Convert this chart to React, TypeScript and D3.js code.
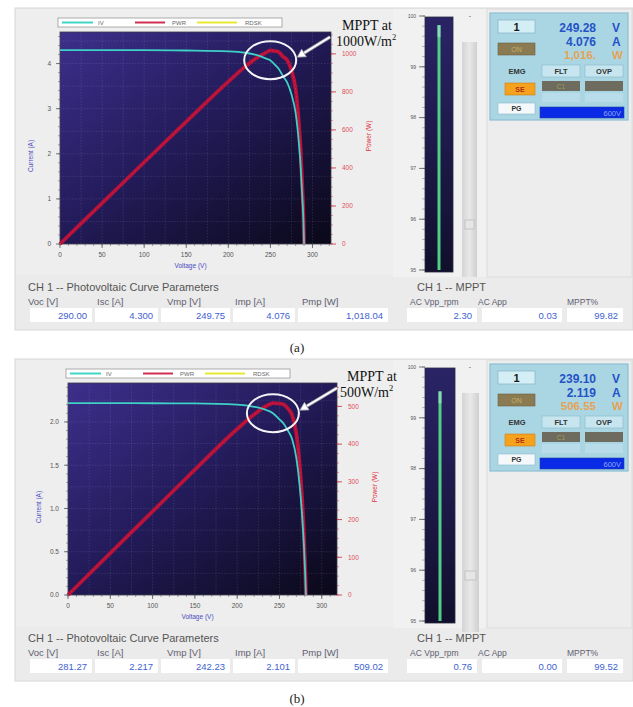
import React from "react";
import * as d3 from "d3";

// ---------- data ----------
const voltageA = [0, 50, 100, 150, 200, 220, 235, 245, 249.75, 255, 260, 265, 270, 275, 280, 284, 286, 288, 289.3, 290];
const currentA = [4.3, 4.3, 4.3, 4.29, 4.27, 4.24, 4.18, 4.11, 4.076, 3.98, 3.88, 3.72, 3.58, 3.32, 2.9, 2.2, 1.7, 1.0, 0.5, 0];
const powerA = [0, 215, 430, 643.5, 854, 932.8, 982.3, 1007, 1018, 1014.9, 1008.8, 985.8, 966.6, 913, 812, 624.8, 486.2, 288, 144.7, 0];

const voltageB = [0, 50, 100, 150, 200, 220, 235, 242.23, 250, 255, 260, 265, 270, 274, 277, 279, 280.5, 281.27];
const currentB = [2.217, 2.217, 2.216, 2.214, 2.2, 2.175, 2.135, 2.101, 2.03, 1.98, 1.9, 1.8, 1.58, 1.25, 0.88, 0.55, 0.22, 0];
const powerB = [0, 110.85, 221.6, 332.1, 440, 478.5, 501.7, 508.9, 507.5, 504.9, 494, 477, 426.6, 342.5, 243.8, 153.5, 61.7, 0];

const voltageTicks = [0, 50, 100, 150, 200, 250, 300];
const currentTicksA = [0, 1, 2, 3, 4];
const currentTicksB = [0, 0.5, 1, 1.5, 2];
const powerTicksA = [0, 200, 400, 600, 800, 1000];
const powerTicksB = [0, 100, 200, 300, 400, 500];
const gaugeTicks = [95, 96, 97, 98, 99, 100];
const legendLabels = ["IV", "PWR", "RDSK"];

const paramHeaders = ["Voc [V]", "Isc [A]", "Vmp [V]", "Imp [A]", "Pmp [W]"];
const paramValuesA = ["290.00", "4.300", "249.75", "4.076", "1,018.04"];
const paramValuesB = ["281.27", "2.217", "242.23", "2.101", "509.02"];
const mpptHeaders = ["AC Vpp_rpm", "AC App", "MPPT%"];
const mpptValuesA = ["2.30", "0.03", "99.82"];
const mpptValuesB = ["0.76", "0.00", "99.52"];
const mpptPctA = 99.82;
const mpptPctB = 99.52;
const readoutA = ["249.28", "4.076", "1,016."];
const readoutB = ["239.10", "2.119", "506.55"];
const irradianceA = "1000W/m";
const irradianceB = "500W/m";
const captions = ["(a)", "(b)"];

const SANS = "'Liberation Sans', Arial, sans-serif";
const SERIF = "'Liberation Serif', 'Times New Roman', serif";

type Cfg = {
  id: string;
  top: number;
  plot: { x0: number; x1: number; y0: number; y1: number };
  xMax: number;
  iMax: number;
  pMax: number;
  V: number[];
  I: number[];
  P: number[];
  iTicks: number[];
  iMinor: number;
  iGrid: number;
  iFmt: (v: number) => string;
  pTicks: number[];
  pMinor: number;
  vmp: number;
  imp: number;
  irr: string;
  txt: { mx: number; my: number; ix: number; iy: number };
  arrowTail: [number, number];
  params: string[];
  mppt: string[];
  pct: number;
  readout: string[];
  gauge: { x0: number; x1: number; y0: number; y1: number };
  slider: { x0: number; x1: number; y0: number; y1: number };
  caption: string;
};

function Panel({ c }: { c: Cfg }) {
  const { plot } = c;
  const x = d3.scaleLinear().domain([0, c.xMax]).range([plot.x0, plot.x1]);
  const yI = d3.scaleLinear().domain([0, c.iMax]).range([plot.y1, plot.y0]);
  const yP = d3.scaleLinear().domain([0, c.pMax]).range([plot.y1, plot.y0]);
  const ivPts: [number, number][] = c.V.map((v, i) => [v, c.I[i]]);
  const pPts: [number, number][] = c.V.map((v, i) => [v, c.P[i]]);
  const ivLine = d3.line<[number, number]>().x((d) => x(d[0])).y((d) => yI(d[1])).curve(d3.curveMonotoneX);
  const pLine = d3.line<[number, number]>().x((d) => x(d[0])).y((d) => yP(d[1])).curve(d3.curveMonotoneX);

  const vGrid = d3.range(0, c.xMax + 0.01, 25);
  const vMinor = d3.range(0, c.xMax + 0.01, 10);
  const iGrid = d3.range(0, c.iMax + 0.0001, c.iGrid);
  const iMinor = d3.range(0, c.iMax + 0.0001, c.iMinor);
  const pMinor = d3.range(0, c.pMax + 0.01, c.pMinor);

  const gy = d3.scaleLinear().domain([95, 100]).range([c.gauge.y1 - 2, c.gauge.y0 - 1]);
  const gMinor = d3.range(95, 100.001, 0.2);

  const cx = x(c.vmp);
  const cy = yI(c.imp);
  const rx = 26;
  const ry = 19;
  const head: [number, number] = [cx + rx + 1, cy - 3];
  const ang = Math.atan2(head[1] - c.arrowTail[1], head[0] - c.arrowTail[0]);
  const ah = 8;
  const aw = 4.5;
  const bx = head[0] - ah * Math.cos(ang);
  const by = head[1] - ah * Math.sin(ang);
  const arrowPoly = [
    [head[0], head[1]],
    [bx + aw * Math.sin(ang), by - aw * Math.cos(ang)],
    [bx - aw * Math.sin(ang), by + aw * Math.cos(ang)],
  ]
    .map((p) => p.join(","))
    .join(" ");

  const T = c.top;
  const pBoxes = [
    [30, 92],
    [95, 158],
    [161, 230],
    [233, 295],
    [298, 388],
  ];
  const pHeadX = [28, 97, 167, 235, 302];
  const mBoxes = [
    [407, 477],
    [482, 562],
    [567, 623],
  ];
  const mHeadX = [410, 478, 567];

  const rp = { x0: 490, y0: T + 5 };

  return (
    <g>
      {/* panel backgrounds */}
      <rect x={15} y={T} width={618} height={322} fill="#ebebeb" stroke="#d8d8d8" />
      <rect x={16} y={T + 1} width={377} height={266} fill="#eeeeee" />
      <rect x={393} y={T + 1} width={94} height={268} fill="#f1f1f1" />
      <rect x={487} y={T + 1} width={145} height={268} fill="#ededed" stroke="#dcdcdc" />

      {/* plot background */}
      <rect x={plot.x0} y={plot.y0} width={plot.x1 - plot.x0} height={plot.y1 - plot.y0} fill={`url(#bg-${c.id})`} />
      {vGrid.map((v) => (
        <line key={"vg" + v} x1={x(v)} x2={x(v)} y1={plot.y0} y2={plot.y1} stroke="rgba(200,200,230,0.2)" strokeWidth={0.7} strokeDasharray="1.5,1.5" />
      ))}
      {iGrid.map((v) => (
        <line key={"ig" + v} x1={plot.x0} x2={plot.x1} y1={yI(v)} y2={yI(v)} stroke="rgba(200,200,230,0.2)" strokeWidth={0.7} strokeDasharray="1.5,1.5" />
      ))}
      <rect x={plot.x0} y={plot.y0} width={plot.x1 - plot.x0} height={plot.y1 - plot.y0} fill="none" stroke="#3a3a4a" strokeWidth={0.8} />

      {/* legend */}
      <rect x={plot.x0 - 2} y={plot.y0 - 14} width={224} height={9} fill="#ffffff" stroke="#9a9a9a" strokeWidth={0.8} />
      <line x1={plot.x0 + 2} x2={plot.x0 + 33} y1={plot.y0 - 9.5} y2={plot.y0 - 9.5} stroke="#3fd6c6" strokeWidth={2} />
      <text x={plot.x0 + 38} y={plot.y0 - 7.3} fontSize={6} fill="#666" fontFamily={SANS}>{legendLabels[0]}</text>
      <line x1={plot.x0 + 75} x2={plot.x0 + 105} y1={plot.y0 - 9.5} y2={plot.y0 - 9.5} stroke="#d03050" strokeWidth={2} />
      <text x={plot.x0 + 112} y={plot.y0 - 7.3} fontSize={6} fill="#666" fontFamily={SANS}>{legendLabels[1]}</text>
      <line x1={plot.x0 + 137} x2={plot.x0 + 177} y1={plot.y0 - 9.5} y2={plot.y0 - 9.5} stroke="#e8e830" strokeWidth={2} />
      <text x={plot.x0 + 185} y={plot.y0 - 7.3} fontSize={6} fill="#666" fontFamily={SANS}>{legendLabels[2]}</text>

      {/* curves */}
      <path d={pLine(pPts) || ""} fill="none" stroke="#b5123a" strokeWidth={3.8} strokeLinejoin="round" />
      <path d={pLine(pPts) || ""} fill="none" stroke="#e0204a" strokeWidth={1} strokeDasharray="2,2" opacity={0.7} />
      <path d={ivLine(ivPts) || ""} fill="none" stroke="#3fd0c6" strokeWidth={1.8} />

      {/* left axis */}
      {iMinor.map((v) => (
        <line key={"im" + v} x1={plot.x0 - 2} x2={plot.x0} y1={yI(v)} y2={yI(v)} stroke="#666" strokeWidth={0.6} />
      ))}
      {c.iTicks.map((v) => (
        <g key={"it" + v}>
          <line x1={plot.x0 - 4} x2={plot.x0} y1={yI(v)} y2={yI(v)} stroke="#555" strokeWidth={0.8} />
          <text x={plot.x0 - 9} y={yI(v) + 2.3} fontSize={6.5} fill="#555" textAnchor="end" fontFamily={SANS}>{c.iFmt(v)}</text>
        </g>
      ))}
      <text transform={`translate(${plot.x0 - 27},${(plot.y0 + plot.y1) / 2 + 18}) rotate(-90)`} fontSize={6.5} fill="#4b4bc0" textAnchor="middle" fontFamily={SANS}>Current (A)</text>

      {/* bottom axis */}
      {vMinor.map((v) => (
        <line key={"vm" + v} x1={x(v)} x2={x(v)} y1={plot.y1} y2={plot.y1 + 2} stroke="#666" strokeWidth={0.6} />
      ))}
      {voltageTicks.map((v) => (
        <g key={"vt" + v}>
          <line x1={x(v)} x2={x(v)} y1={plot.y1} y2={plot.y1 + 4} stroke="#555" strokeWidth={0.8} />
          <text x={x(v)} y={plot.y1 + 13} fontSize={6.5} fill="#555" textAnchor="middle" fontFamily={SANS}>{v}</text>
        </g>
      ))}
      <text x={(plot.x0 + plot.x1) / 2 - 5} y={plot.y1 + 24} fontSize={6.5} fill="#4b4bc0" textAnchor="middle" fontFamily={SANS}>Voltage (V)</text>

      {/* right axis */}
      {pMinor.map((v) => (
        <line key={"pm" + v} x1={plot.x1} x2={plot.x1 + 2} y1={yP(v)} y2={yP(v)} stroke="#d05060" strokeWidth={0.6} />
      ))}
      {c.pTicks.map((v) => (
        <g key={"pt" + v}>
          <line x1={plot.x1} x2={plot.x1 + 5} y1={yP(v)} y2={yP(v)} stroke="#d04050" strokeWidth={0.9} />
          <text x={plot.x1 + 11} y={yP(v) + 2.3} fontSize={6.5} fill="#e05060" fontFamily={SANS}>{v}</text>
        </g>
      ))}
      <text transform={`translate(${plot.x1 + 40},${(plot.y0 + plot.y1) / 2 - 2}) rotate(-90)`} fontSize={6.5} fill="#e03040" textAnchor="middle" fontFamily={SANS}>Power (W)</text>

      {/* MPPT annotation */}
      <ellipse cx={cx} cy={cy} rx={rx} ry={ry} fill="none" stroke="#f4f4f8" strokeWidth={2} />
      <line x1={c.arrowTail[0]} y1={c.arrowTail[1]} x2={bx} y2={by} stroke="#9a9aa8" strokeWidth={3.4} />
      <line x1={c.arrowTail[0]} y1={c.arrowTail[1]} x2={bx} y2={by} stroke="#ffffff" strokeWidth={1.8} />
      <polygon points={arrowPoly} fill="#ffffff" stroke="#9a9aa8" strokeWidth={0.8} />
      <text x={c.txt.mx} y={c.txt.my} fontSize={14} fill="#111" fontFamily={SERIF}>MPPT at</text>
      <text x={c.txt.ix} y={c.txt.iy} fontSize={14} fill="#111" fontFamily={SERIF}>
        {c.irr}
        <tspan fontSize={8.5} dy={-6}>2</tspan>
      </text>

      {/* gauge */}
      {gMinor.map((v) => (
        <line key={"gm" + v.toFixed(1)} x1={c.gauge.x0 - 3} x2={c.gauge.x0} y1={gy(v)} y2={gy(v)} stroke="#777" strokeWidth={0.5} />
      ))}
      {gaugeTicks.map((v) => (
        <g key={"gt" + v}>
          <line x1={c.gauge.x0 - 6} x2={c.gauge.x0} y1={gy(v)} y2={gy(v)} stroke="#555" strokeWidth={0.8} />
          <text x={c.gauge.x0 - 9} y={gy(v) + 1.8} fontSize={5} fill="#555" textAnchor="end" fontFamily={SANS}>{v}</text>
        </g>
      ))}
      <rect x={c.gauge.x0} y={c.gauge.y0} width={c.gauge.x1 - c.gauge.x0} height={c.gauge.y1 - c.gauge.y0} fill={`url(#gg-${c.id})`} stroke="#2a2a40" strokeWidth={0.8} />
      <rect x={(c.gauge.x0 + c.gauge.x1) / 2 - 1.5} y={gy(c.pct)} width={3} height={c.gauge.y1 - 2 - gy(c.pct)} fill="#4fcf86" />
      <rect x={(c.gauge.x0 + c.gauge.x1) / 2 - 1.5} y={gy(c.pct)} width={3} height={12} fill="#9fe0c8" opacity={0.7} />
      {/* slider */}
      <text x={c.slider.x0 + 8} y={c.slider.y0 - 24} fontSize={7} fill="#555" textAnchor="middle" fontFamily={SANS}>-</text>
      <rect x={c.slider.x0} y={c.slider.y0} width={c.slider.x1 - c.slider.x0} height={c.slider.y1 - c.slider.y0} fill={`url(#sl-${c.id})`} />
      <rect x={c.slider.x0 + 3} y={c.slider.y0 + 178} width={c.slider.x1 - c.slider.x0 - 6} height={9} fill="#e6e6e6" stroke="#b0b0b0" strokeWidth={0.6} />

      {/* right status panel */}
      <rect x={rp.x0} y={rp.y0} width={138} height={107} fill="#aad6e4" stroke="#8cbfd2" strokeWidth={1.2} />
      <rect x={498} y={T + 12} width={37} height={13} fill="#d4eef5" stroke="#8ab8c8" strokeWidth={0.8} />
      <text x={516.5} y={T + 22.5} fontSize={11} fontWeight="bold" fill="#1a1a1a" textAnchor="middle" fontFamily={SANS}>1</text>
      <text x={596} y={T + 24} fontSize={12} fontWeight="bold" fill="#2553c6" textAnchor="end" fontFamily={SANS}>{c.readout[0]}</text>
      <text x={612} y={T + 24} fontSize={12} fontWeight="bold" fill="#2553c6" fontFamily={SANS}>V</text>
      <text x={596} y={T + 37.5} fontSize={12} fontWeight="bold" fill="#2553c6" textAnchor="end" fontFamily={SANS}>{c.readout[1]}</text>
      <text x={612} y={T + 37.5} fontSize={12} fontWeight="bold" fill="#2553c6" fontFamily={SANS}>A</text>
      <text x={596} y={T + 51} fontSize={11.5} fontWeight="bold" fill="#f09a3a" textAnchor="end" fontFamily={SANS} opacity={0.85}>{c.readout[2]}</text>
      <text x={612} y={T + 51} fontSize={11.5} fontWeight="bold" fill="#f09a3a" fontFamily={SANS} opacity={0.85}>W</text>
      <rect x={498} y={T + 35} width={37} height={12} fill="#8a7b52" stroke="#6e6040" strokeWidth={0.6} />
      <text x={516.5} y={T + 43.5} fontSize={7} fill="#c8ae6a" textAnchor="middle" fontFamily={SANS}>ON</text>

      <text x={517} y={T + 66} fontSize={7.5} fontWeight="bold" fill="#333" textAnchor="middle" fontFamily={SANS}>EMG</text>
      <rect x={542} y={T + 57} width={38} height={12} fill="#c6e5ee" stroke="#8ab8c8" strokeWidth={0.6} />
      <text x={561} y={T + 66} fontSize={7.5} fontWeight="bold" fill="#333" textAnchor="middle" fontFamily={SANS}>FLT</text>
      <rect x={585} y={T + 57} width={38} height={12} fill="#c6e5ee" stroke="#8ab8c8" strokeWidth={0.6} />
      <text x={604} y={T + 66} fontSize={7.5} fontWeight="bold" fill="#333" textAnchor="middle" fontFamily={SANS}>OVP</text>

      <rect x={505} y={T + 75} width={30} height={12} fill="#f5a21e" stroke="#d08010" strokeWidth={0.6} />
      <text x={520} y={T + 84} fontSize={7} fontWeight="bold" fill="#b03010" textAnchor="middle" fontFamily={SANS}>SE</text>
      <rect x={542} y={T + 73} width={38} height={10} fill="#6d6c5e" />
      <text x={561} y={T + 80.5} fontSize={6.5} fill="#a89a5a" textAnchor="middle" fontFamily={SANS}>C1</text>
      <rect x={585} y={T + 73} width={38} height={10} fill="#6d6c5e" />
      <rect x={542} y={T + 85} width={38} height={9} fill="#b9dcea" />
      <rect x={585} y={T + 85} width={38} height={9} fill="#b9dcea" />

      <rect x={498} y={T + 95} width={37} height={11} fill="#f4f8fa" stroke="#8ab8c8" strokeWidth={0.6} />
      <text x={516.5} y={T + 103} fontSize={7} fontWeight="bold" fill="#333" textAnchor="middle" fontFamily={SANS}>PG</text>
      <rect x={540} y={T + 99} width={84} height={11} fill="#0a2be6" stroke="#2040a0" strokeWidth={0.6} />
      <text x={621} y={T + 107.5} fontSize={7.5} fill="#8ea8f0" textAnchor="end" fontFamily={SANS}>600V</text>

      {/* parameters */}
      <text x={28} y={T + 283} fontSize={11} fill="#555" fontFamily={SANS}>CH 1 -- Photovoltaic Curve Parameters</text>
      {paramHeaders.map((h, i) => (
        <text key={"ph" + i} x={pHeadX[i]} y={T + 297} fontSize={9.5} fill="#606070" fontFamily={SANS}>{h}</text>
      ))}
      {pBoxes.map((b, i) => (
        <g key={"pb" + i}>
          <rect x={b[0]} y={T + 300} width={b[1] - b[0]} height={14} fill="#ffffff" />
          <text x={b[1] - 5} y={T + 311} fontSize={9.5} fill="#3e62d0" textAnchor="end" fontFamily={SANS}>{c.params[i]}</text>
        </g>
      ))}
      <text x={417} y={T + 283} fontSize={11} fill="#555" fontFamily={SANS}>CH 1 -- MPPT</text>
      {mpptHeaders.map((h, i) => (
        <text key={"mh" + i} x={mHeadX[i]} y={T + 297} fontSize={8.5} fill="#606070" fontFamily={SANS}>{h}</text>
      ))}
      {mBoxes.map((b, i) => (
        <g key={"mb" + i}>
          <rect x={b[0]} y={T + 300} width={b[1] - b[0]} height={14} fill="#ffffff" />
          <text x={b[1] - 5} y={T + 311} fontSize={9.5} fill="#3e62d0" textAnchor="end" fontFamily={SANS}>{c.mppt[i]}</text>
        </g>
      ))}
      <text x={297} y={T + 344} fontSize={13} fill="#222" textAnchor="middle" fontFamily={SERIF}>{c.caption}</text>
    </g>
  );
}

const cfgA: Cfg = {
  id: "a",
  top: 8,
  plot: { x0: 60, x1: 331, y0: 32, y1: 244 },
  xMax: 322,
  iMax: 4.7,
  pMax: 1115,
  V: voltageA,
  I: currentA,
  P: powerA,
  iTicks: currentTicksA,
  iMinor: 0.2,
  iGrid: 0.5,
  iFmt: (v) => String(v),
  pTicks: powerTicksA,
  pMinor: 50,
  vmp: 249.75,
  imp: 4.076,
  irr: irradianceA,
  txt: { mx: 342, my: 30, ix: 336, iy: 46 },
  arrowTail: [330, 37],
  params: paramValuesA,
  mppt: mpptValuesA,
  pct: mpptPctA,
  readout: readoutA,
  gauge: { x0: 425, x1: 453, y0: 17, y1: 272 },
  slider: { x0: 462, x1: 477, y0: 42, y1: 277 },
  caption: captions[0],
};

const cfgB: Cfg = {
  id: "b",
  top: 359,
  plot: { x0: 68, x1: 337, y0: 383, y1: 595 },
  xMax: 318,
  iMax: 2.45,
  pMax: 562,
  V: voltageB,
  I: currentB,
  P: powerB,
  iTicks: currentTicksB,
  iMinor: 0.1,
  iGrid: 0.25,
  iFmt: (v) => v.toFixed(1),
  pTicks: powerTicksB,
  pMinor: 25,
  vmp: 242.23,
  imp: 2.101,
  irr: irradianceB,
  txt: { mx: 347, my: 381, ix: 340, iy: 397 },
  arrowTail: [337, 388],
  params: paramValuesB,
  mppt: mpptValuesB,
  pct: mpptPctB,
  readout: readoutB,
  gauge: { x0: 425, x1: 455, y0: 368, y1: 623 },
  slider: { x0: 462, x1: 479, y0: 393, y1: 632 },
  caption: captions[1],
};

export default function App() {
  return (
    <svg width={633} height={707} style={{ position: "absolute", left: 0, top: 0, background: "#ffffff" }}>
      <defs>
        {["a", "b"].map((id) => (
          <React.Fragment key={id}>
            <linearGradient id={`bg-${id}`} x1="0" y1="0" x2="1" y2="1">
              <stop offset="0" stopColor="#3d2f8c" />
              <stop offset="0.45" stopColor="#241c5c" />
              <stop offset="1" stopColor="#0a0818" />
            </linearGradient>
            <linearGradient id={`gg-${id}`} x1="0" y1="0" x2="0" y2="1">
              <stop offset="0" stopColor="#2a2466" />
              <stop offset="1" stopColor="#120f2c" />
            </linearGradient>
            <linearGradient id={`sl-${id}`} x1="0" y1="0" x2="1" y2="0">
              <stop offset="0" stopColor="#d4d4d4" />
              <stop offset="0.5" stopColor="#e8e8e8" />
              <stop offset="1" stopColor="#cfcfcf" />
            </linearGradient>
          </React.Fragment>
        ))}
      </defs>
      <Panel c={cfgA} />
      <Panel c={cfgB} />
    </svg>
  );
}
